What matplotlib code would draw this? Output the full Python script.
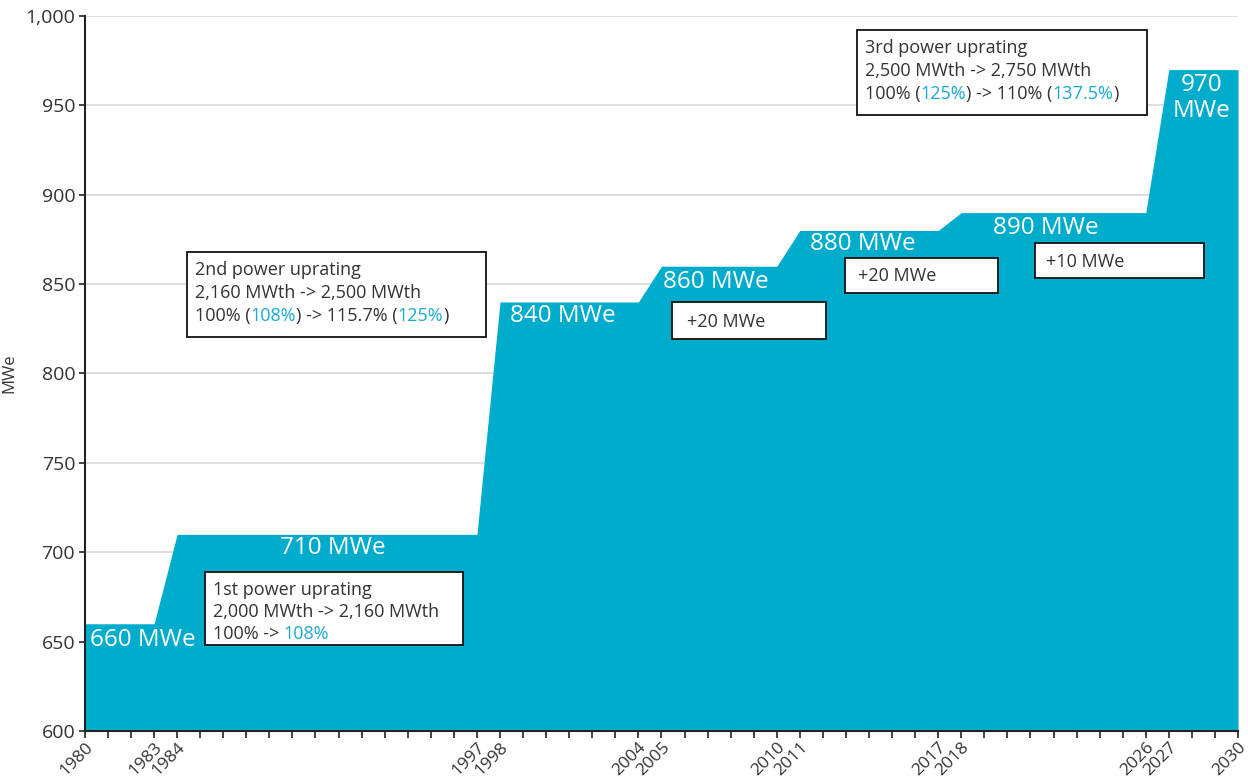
import matplotlib.pyplot as plt
from matplotlib.patches import Rectangle

plt.rcParams['font.family'] = ['Open Sans', 'DejaVu Sans']

# Dados
anos = [1980, 1983, 1984, 1997, 1998, 2004, 2005, 2010, 2011, 2017, 2018, 2026, 2027, 2030]
potencia = [660, 660, 710, 710, 840, 840, 860, 860, 880, 880, 890, 890, 970, 970]
anos_ticks = anos
rotulos = ['660 MWe', '710 MWe', '840 MWe', '860 MWe', '880 MWe', '890 MWe', '970\nMWe']

azul = '#00accb'
azul_txt = '#1aa9d3'
cinza = '#333333'

fig = plt.figure(figsize=(12.48, 7.83), dpi=100)
ax = fig.add_axes([0.068, 0.0664, 0.924, 0.9132])

ax.fill_between(anos, potencia, 600, color=azul, linewidth=0, zorder=2)

ax.set_xlim(1980, 2030)
ax.set_ylim(600, 1000)
ax.set_xticks(anos_ticks)
ax.set_xticklabels([str(a) for a in anos_ticks], rotation=45, ha='right',
                   rotation_mode='anchor', fontsize=12.5, color=cinza)
ax.set_xticks(range(1980, 2031), minor=True)
ax.set_yticks(range(600, 1001, 50))
ax.set_yticklabels([f'{v:,}' for v in range(600, 1001, 50)], fontsize=14, color=cinza)
ax.tick_params(axis='x', which='both', length=5, width=1.2, color='#222222', pad=1)
ax.tick_params(axis='y', length=4, width=1.2, color='#222222', pad=3)
ax.set_ylabel('MWe', fontsize=12, color=cinza, labelpad=6)

ax.grid(axis='y', color='#d9d9d9', linewidth=1.2, zorder=0)
ax.set_axisbelow(True)
for s in ['top', 'right']:
    ax.spines[s].set_visible(False)
for s in ['left', 'bottom']:
    ax.spines[s].set_linewidth(1.5)
    ax.spines[s].set_color('#222222')
    ax.spines[s].set_zorder(5)

# rotulos brancos
pos_rot = [(1980.22, 650.9, 'left'), (1990.75, 702.4, 'center'), (1998.43, 832.2, 'left'),
           (2005.07, 851.2, 'left'), (2011.44, 872.4, 'left'), (2019.38, 881.4, 'left'),
           (2028.4, 954.1, 'center')]
for (x, y, ha), t in zip(pos_rot, rotulos):
    ax.text(x, y, t, color='white', fontsize=17.5, ha=ha, va='center', zorder=4,
            linespacing=1.1)


def caixa(x0, x1, y0, y1):
    ax.add_patch(Rectangle((x0, y0), x1 - x0, y1 - y0, facecolor='white',
                           edgecolor='#111111', linewidth=1.3, zorder=6))


def linha(x, y, partes):
    t = ax.text(x, y, partes[0][0], color=partes[0][1], fontsize=13, ha='left',
                va='center', zorder=7)
    for s, c in partes[1:]:
        t = ax.annotate(s, xy=(1, 0), xycoords=t, va='bottom', ha='left',
                        color=c, fontsize=13, zorder=7)


# caixa 1
caixa(1985.20, 1996.39, 648.1, 689.0)
linha(1985.55, 678.9, [('1st power uprating', cinza)])
linha(1985.55, 666.4, [('2,000 MWth -> 2,160 MWth', cinza)])
linha(1985.55, 654.3, [('100% -> ', cinza), ('108%', azul_txt)])

# caixa 2
caixa(1984.42, 1997.39, 820.4, 868.0)
linha(1984.77, 857.9, [('2nd power uprating', cinza)])
linha(1984.77, 845.0, [('2,160 MWth -> 2,500 MWth', cinza)])
linha(1984.77, 832.2, [('100% (', cinza), ('108%', azul_txt), (') -> 115.7% (', cinza),
                       ('125%', azul_txt), (')', cinza)])

# caixa 3
caixa(2013.48, 2026.05, 944.6, 992.2)
linha(2013.82, 982.1, [('3rd power uprating', cinza)])
linha(2013.82, 969.2, [('2,500 MWth -> 2,750 MWth', cinza)])
linha(2013.82, 956.4, [('100% (', cinza), ('125%', azul_txt), (') -> 110% (', cinza),
                       ('137.5%', azul_txt), (')', cinza)])

# caixas pequenas
caixa(2005.46, 2012.13, 819.3, 840.0)
linha(2006.11, 828.8, [('+20 MWe', cinza)])
caixa(2012.96, 2019.59, 845.0, 864.6)
linha(2013.52, 854.5, [('+20 MWe', cinza)])
caixa(2021.20, 2028.53, 853.4, 873.0)
linha(2021.67, 862.4, [('+10 MWe', cinza)])

fig.savefig('out.png', dpi=100)
